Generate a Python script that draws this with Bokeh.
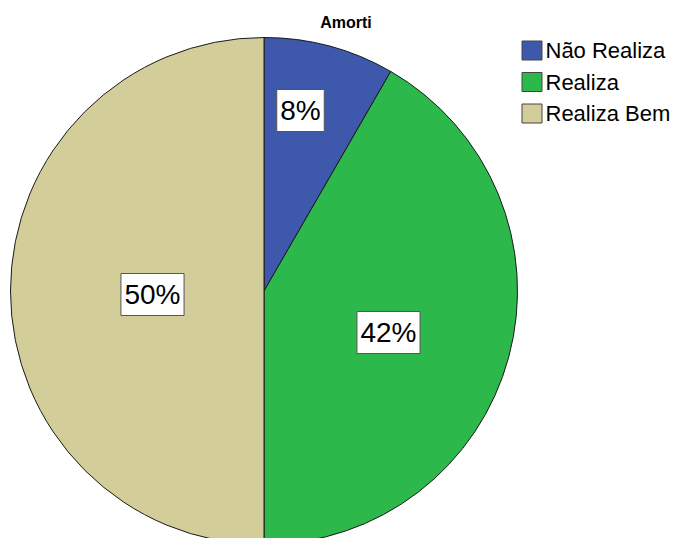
import math
from bokeh.plotting import figure
from bokeh.models import Range1d, ColumnDataSource
from bokeh.core.properties import value
from bokeh.embed import file_html
from bokeh.resources import INLINE

# ---- data ----
title = "Amorti"
categories = ["Não Realiza", "Realiza", "Realiza Bem"]
counts = [2, 10, 12]
colors = ["#3e58ac", "#2db84b", "#d3ce99"]

# ---- layout constants (screen pixel space of the page) ----
W, H = 676, 538
def sy(y):  # screen y -> data y
    return H - y

cx, cy, R = 263.5, 290.5, 253.5
label_pos = [(300, 110), (388, 332), (152, 294)]  # label centres (screen px)

total = sum(counts)
shares = [c / total for c in counts]
starts, ends = [], []
cum = 0.0
for s in shares:
    a0 = math.pi / 2 - 2 * math.pi * cum
    a1 = math.pi / 2 - 2 * math.pi * (cum + s)
    starts.append(a1)
    ends.append(a0)
    cum += s

p = figure(width=W, height=H, output_backend="svg", toolbar_location=None,
           x_range=Range1d(0, W), y_range=Range1d(0, H), min_border=0)
p.axis.visible = False
p.grid.visible = False
p.outline_line_color = None
p.background_fill_color = "white"
p.border_fill_color = "white"

src = ColumnDataSource(dict(start=starts, end=ends, color=colors, cat=categories))
p.wedge(x=cx, y=sy(cy), radius=R, radius_units="screen", start_angle="start", end_angle="end",
        fill_color="color", line_color="#1a1a1a", line_width=1, source=src)

# percentage labels with boxes
labels = [f"{round(s * 100)}%" for s in shares]
lx = [pt[0] for pt in label_pos]
ly = [sy(pt[1]) for pt in label_pos]
bw = [sum(24.9 if ch == "%" else 15.6 for ch in t) + 7 for t in labels]
lsrc = ColumnDataSource(dict(x=lx, y=ly, w=bw, t=labels))
p.rect(x="x", y="y", width="w", height=42, width_units="screen", height_units="screen",
       fill_color="white", line_color="#555555", line_width=1, source=lsrc)
p.text(x="x", y="y", text="t", text_align="center", text_baseline="middle",
       text_font=value("Liberation Sans"), text_font_size="28px", text_color="black", source=lsrc)

# title
p.text(x=[345.5], y=[sy(22)], text=[title], text_align="center", text_baseline="middle",
       text_font=value("Liberation Sans"), text_font_size="16px", text_font_style="bold",
       text_color="black")

# legend
leg_y = [sy(50 + 31.5 * i) for i in range(len(categories))]
legsrc = ColumnDataSource(dict(x=[531.5] * len(categories), y=leg_y, color=colors,
                               tx=[545] * len(categories), cat=categories))
p.rect(x="x", y="y", width=20, height=19, width_units="screen", height_units="screen",
       fill_color="color", line_color="#444444", line_width=1, source=legsrc)
p.text(x="tx", y="y", text="cat", text_align="left", text_baseline="middle",
       text_font=value("Liberation Sans"), text_font_size="22px", text_color="black", source=legsrc)

open("out.html", "w").write(file_html(p, INLINE))
